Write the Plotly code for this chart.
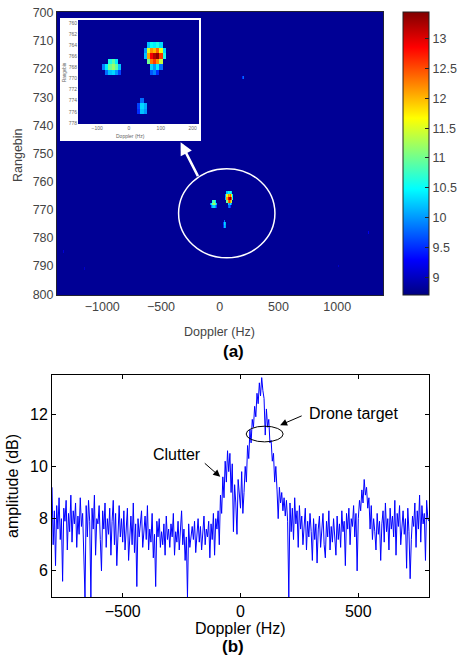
import numpy as np
import plotly.graph_objects as go

# ---------------- (a) Range-Doppler map ----------------
doppler_bins = np.arange(-1380, 1391, 10)      # Hz, bin centres
range_bins = np.arange(700, 801)               # rangebin index
background_level = 8.8

# bright cells of the map: (Doppler Hz, rangebin, level)
blob_doppler = [-60, -50, -40,
                -80, -70, -60, -50, -40, -30,
                -70, -60, -50, -40, -30,
                60, 70, 80, 90, 100,
                50, 60, 70, 80, 90, 100, 110,
                50, 60, 70, 80, 90, 100, 110,
                60, 70, 80, 90, 100,
                70, 80, 90, 100,
                70, 80, 90,
                40, 30, 40, 50, 30, 40, 50,
                190, 200,
                -1330, -1150, 1260, 1010]
blob_range = [767, 767, 767,
              768, 768, 768, 768, 768, 768,
              769, 769, 769, 769, 769,
              764, 764, 764, 764, 764,
              765, 765, 765, 765, 765, 765, 765,
              766, 766, 766, 766, 766, 766, 766,
              767, 767, 767, 767, 767,
              768, 768, 768, 768,
              769, 769, 769,
              774, 775, 775, 775, 776, 776, 776,
              723, 723,
              785, 791, 778, 790]
blob_level = [10.6, 10.9, 10.4,
              9.9, 10.4, 11.0, 11.2, 10.9, 10.2,
              9.8, 10.2, 10.3, 10.0, 9.6,
              10.2, 10.5, 10.4, 10.6, 10.3,
              10.0, 11.5, 12.2, 12.0, 12.4, 11.6, 10.3,
              10.2, 12.1, 12.9, 13.2, 13.4, 12.6, 10.6,
              11.0, 12.3, 12.6, 12.2, 11.4,
              10.3, 10.0, 10.4, 9.8,
              9.7, 9.9, 9.5,
              9.8, 9.6, 10.3, 10.1, 9.5, 10.2, 10.0,
              9.5, 9.8,
              9.1, 9.05, 9.2, 9.05]

cbar_ticks = [9, 9.5, 10, 10.5, 11, 11.5, 12, 12.5, 13]
main_x_ticks = [-1000, -500, 0, 500, 1000]
main_y_ticks = list(range(700, 801, 10))
inset_x_ticks = [-100, 0, 100, 200]
inset_y_ticks = list(range(760, 779, 2))

z = np.full((len(range_bins), len(doppler_bins)), background_level)
for d, r, v in zip(blob_doppler, blob_range, blob_level):
    z[r - range_bins[0], int(np.argmin(np.abs(doppler_bins - d)))] = v

ix = (doppler_bins >= -170) & (doppler_bins <= 230)
iy = (range_bins >= 759) & (range_bins <= 779)
z_in = z[np.ix_(iy, ix)]

# ---------------- (b) Doppler spectrum ----------------
spec_doppler = np.arange(-800, 801, 5)
spec_amp = [
    9.2, 7.0, 8.3, 6.2, 8.5, 7.6, 8.8, 7.2, 8.0, 5.6, 8.4, 7.9, 8.7, 6.8, 8.2, 7.5, 8.9, 7.1, 8.3, 7.8,
    8.6, 6.9, 8.1, 7.4, 8.8, 7.7, 8.2, 6.3, 5.0, 8.5, 7.3, 8.7, 7.9, 5.0, 8.4, 7.6, 8.9, 6.6, 8.0, 7.8,
    8.5, 7.2, 6.0, 8.3, 7.6, 8.6, 6.9, 8.0, 7.4, 8.4, 6.6, 7.9, 8.7, 7.0, 8.2, 6.2, 7.7, 8.5, 7.3, 8.0,
    7.1, 8.3, 6.8, 7.9, 8.4, 6.4, 7.6, 8.1, 7.0, 8.6, 6.7, 7.8, 5.4, 8.0, 7.3, 7.7, 8.3, 6.9, 7.5, 8.1,
    7.2, 8.5, 6.8, 7.6, 7.1, 8.2, 6.5, 7.4, 5.4, 7.9, 7.3, 8.0, 6.9, 7.5, 7.0, 7.8, 6.6, 8.1, 7.2, 7.6,
    6.9, 7.8, 7.3, 8.2, 6.6, 7.5, 7.1, 7.9, 6.8, 7.4, 8.3, 7.0, 7.6, 6.4, 7.3, 5.0, 7.8, 6.9, 7.4, 7.7,
    7.2, 7.9, 6.7, 7.5, 8.0, 7.1, 7.7, 6.8, 7.4, 8.1, 7.0, 7.6, 7.3, 7.9, 6.5, 7.8, 7.2, 8.2, 6.6, 8.0,
    7.6, 8.3, 7.0, 8.9, 8.2, 9.6, 8.8, 10.2, 9.4, 10.6, 9.8, 10.5, 9.0, 10.1, 7.5, 9.3, 8.6, 7.4, 9.5, 8.7,
    8.4, 9.8, 8.2, 9.0, 10.0, 9.4, 10.8, 10.3, 11.4, 10.9, 11.8, 11.5, 12.3, 11.9, 12.8, 12.4, 13.2, 12.7, 13.4, 12.9,
    12.6, 11.2, 12.2, 11.5, 11.8, 10.9, 11.0, 10.2, 10.5, 9.4, 10.0, 9.1, 8.0, 9.2, 8.6, 9.0, 8.3, 8.8, 8.1, 8.7,
    7.9, 5.0, 8.6, 7.5, 8.4, 7.2, 8.8, 7.8, 8.3, 6.9, 8.5, 7.6, 8.1, 7.0, 7.8, 8.4, 6.8, 7.9, 7.3, 8.2,
    7.5, 6.4, 8.0, 7.2, 7.8, 6.3, 7.6, 8.1, 6.9, 7.4, 8.2, 7.0, 6.5, 7.9, 7.3, 8.3, 6.8, 7.7, 7.1, 8.0,
    7.4, 6.6, 8.1, 7.2, 7.8, 6.9, 8.3, 7.5, 7.9, 6.2, 8.2, 7.6, 8.4, 7.0, 8.0, 7.7, 8.5, 7.3, 8.2, 6.0,
    8.0, 8.7, 8.3, 9.1, 8.6, 9.5, 8.9, 9.2, 8.4, 8.8, 7.6, 8.5, 7.2, 8.0, 7.5, 6.8, 8.2, 7.4, 7.9, 6.4,
    7.8, 8.3, 7.1, 8.6, 7.5, 8.0, 6.8, 8.4, 7.6, 8.1, 7.3, 8.7, 6.6, 8.2, 7.7, 8.5, 7.0, 7.9, 8.3, 7.4,
    8.0, 6.1, 8.4, 7.5, 5.7, 7.2, 8.1, 7.7, 8.6, 6.9, 8.3, 7.6, 8.9, 7.1, 8.5, 7.8, 8.2, 6.4, 8.7, 8.0,
    7.9,
]

jet = [[0, 'rgb(0,0,128)'], [0.125, 'rgb(0,0,255)'], [0.375, 'rgb(0,255,255)'],
       [0.625, 'rgb(255,255,0)'], [0.875, 'rgb(255,0,0)'], [1, 'rgb(128,0,0)']]

W, H = 465, 658
def px(x): return x / W
def py(y): return 1 - y / H

FONT = "Liberation Sans, Arial, sans-serif"
GREY = "#444"

fig = go.Figure()
fig.add_trace(go.Heatmap(x=doppler_bins, y=range_bins, z=z, coloraxis="coloraxis",
                         xaxis="x", yaxis="y", hoverinfo="skip"))
fig.add_trace(go.Heatmap(x=[0], y=[0], z=[[1]], showscale=False,
                         colorscale=[[0, 'white'], [1, 'white']],
                         xaxis="x2", yaxis="y2", hoverinfo="skip"))
fig.add_trace(go.Heatmap(x=doppler_bins[ix], y=range_bins[iy], z=z_in, coloraxis="coloraxis",
                         xaxis="x3", yaxis="y3", hoverinfo="skip"))
fig.add_trace(go.Scatter(x=spec_doppler, y=spec_amp, mode="lines",
                         line=dict(color="rgb(0,0,255)", width=1),
                         xaxis="x4", yaxis="y4", hoverinfo="skip"))

ax_common = dict(showgrid=False, zeroline=False)
fig.update_layout(
    width=W, height=H, margin=dict(l=0, r=0, t=0, b=0, autoexpand=False),
    paper_bgcolor="white", plot_bgcolor="white", showlegend=False,
    font=dict(family=FONT, color="black"),
    coloraxis=dict(colorscale=jet, cmin=8.7, cmax=13.45,
                   colorbar=dict(x=px(403), xanchor="left", y=py(295), yanchor="bottom",
                                 len=(295 - 12) / H, lenmode="fraction",
                                 thickness=26, thicknessmode="pixels", xpad=0, ypad=0,
                                 outlinecolor="#222", outlinewidth=1,
                                 tickvals=cbar_ticks, ticktext=[f"{t:g}" for t in cbar_ticks],
                                 ticks="inside", ticklen=4, tickcolor="#222",
                                 tickfont=dict(size=12.5, color=GREY, family=FONT))),
    xaxis=dict(domain=[px(57), px(383)], range=[-1385, 1390], tickvals=main_x_ticks,
               showline=True, mirror=True, linecolor="#223", ticks="",
               tickfont=dict(size=12.5, color=GREY), anchor="y", **ax_common),
    yaxis=dict(domain=[py(295), py(12)], range=[800.3, 699.7], tickvals=main_y_ticks,
               showline=True, mirror=True, linecolor="#223", ticks="",
               tickfont=dict(size=12.5, color=GREY), anchor="x", **ax_common),
    xaxis2=dict(domain=[px(60), px(201)], range=[-0.5, 0.5], visible=False, anchor="y2"),
    yaxis2=dict(domain=[py(141), py(18)], range=[-0.5, 0.5], visible=False, anchor="x2"),
    xaxis3=dict(domain=[px(78), px(199)], range=[-160, 220], tickvals=inset_x_ticks,
                ticks="", tickfont=dict(size=5, color="#666"), anchor="y3", **ax_common),
    yaxis3=dict(domain=[py(124), py(20)], range=[778.2, 759.45], tickvals=inset_y_ticks,
                ticks="", tickfont=dict(size=5, color="#666"), anchor="x3", **ax_common),
    xaxis4=dict(domain=[px(52), px(429)], range=[-800, 800], tickvals=[-500, 0, 500],
                showline=True, mirror="ticks", linecolor="black", linewidth=1,
                ticks="inside", ticklen=4, tickcolor="black",
                tickfont=dict(size=16, color="black"), anchor="y4", **ax_common),
    yaxis4=dict(domain=[py(597), py(375)], range=[5, 13.5], tickvals=[6, 8, 10, 12],
                showline=True, mirror="ticks", linecolor="black", linewidth=1,
                ticks="inside", ticklen=4, tickcolor="black",
                tickfont=dict(size=16, color="black"), anchor="x4", **ax_common),
)

shapes = [
    dict(type="circle", xref="x", yref="y", x0=-350, x1=470, y0=755.4, y1=787.1,
         line=dict(color="white", width=1.5)),
    dict(type="circle", xref="x4", yref="y4", x0=24, x1=181, y0=10.94, y1=11.54,
         line=dict(color="black", width=1)),
]
fig.update_layout(shapes=shapes)

def ptext(x, y, text, size, color="black", angle=0):
    return dict(xref="paper", yref="paper", x=px(x), y=py(y), text=text, showarrow=False,
                xanchor="center", yanchor="middle", textangle=angle,
                font=dict(size=size, color=color))

ann = [
    # arrow from circle to inset
    dict(xref="x", yref="y", axref="x", ayref="y", x=-333, y=746, ax=-179, ay=758.6,
         text="", showarrow=True, arrowhead=2, arrowsize=1, arrowwidth=2.5, arrowcolor="white"),
    ptext(219, 332, "Doppler (Hz)", 12.5, GREY),
    ptext(18, 155, "Rangebin", 12.5, GREY, -90),
    ptext(233, 351, "<b>(a)</b>", 17),
    ptext(130, 136, "Doppler (Hz)", 5, "#666"),
    ptext(64, 72, "Rangebin", 4.5, "#666", -90),
    ptext(240, 628, "Doppler (Hz)", 16),
    ptext(12, 486, "amplitude (dB)", 16, "black", -90),
    ptext(233, 646, "<b>(b)</b>", 17),
    dict(xref="x4", yref="y4", x=-269, y=10.44, text="Clutter", showarrow=False,
         xanchor="center", yanchor="middle", font=dict(size=16, color="black")),
    dict(xref="x4", yref="y4", axref="x4", ayref="y4", x=-86, y=9.6, ax=-158, ay=10.17,
         text="", showarrow=True, arrowhead=2, arrowsize=1.4, arrowwidth=1, arrowcolor="black"),
    dict(xref="x4", yref="y4", x=283, y=12.04, xanchor="left", yanchor="middle",
         text="Drone target", showarrow=False, font=dict(size=16, color="black")),
    dict(xref="x4", yref="y4", axref="x4", ayref="y4", x=168, y=11.58, ax=266, ay=11.96,
         text="", showarrow=True, arrowhead=2, arrowsize=1.4, arrowwidth=1, arrowcolor="black"),
]
fig.update_layout(annotations=ann)

# the page's default 8 px body margin would push the figure off the window
fig.write_html("out.html", config={"displayModeBar": False},
               post_script="document.body.style.margin='0px';document.body.style.overflow='hidden';")
